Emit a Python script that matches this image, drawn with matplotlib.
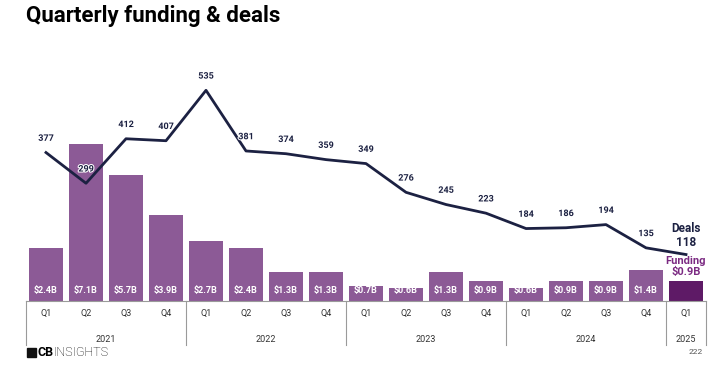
import matplotlib.pyplot as plt
import matplotlib.transforms as mtransforms
import matplotlib.patheffects as pe
from matplotlib.patches import Rectangle

plt.rcParams['font.family'] = ['Roboto', 'DejaVu Sans']

# Data
quarters = ["Q1", "Q2", "Q3", "Q4"] * 4 + ["Q1"]
years = ["2021", "2022", "2023", "2024", "2025"]
year_counts = [4, 4, 4, 4, 1]
funding = [2.4, 7.1, 5.7, 3.9, 2.7, 2.4, 1.3, 1.3, 0.7, 0.6, 1.3, 0.9, 0.6, 0.9, 0.9, 1.4, 0.9]
deals = [377, 299, 412, 407, 535, 381, 374, 359, 349, 276, 245, 223, 184, 186, 194, 135, 118]

bar_color = "#8c5a96"
last_color = "#5e1a66"
line_color = "#1c2142"
funding_text = "#7b2a82"

fig = plt.figure(figsize=(7.13, 3.68), dpi=100)
ax = fig.add_axes([26 / 713, 1 - 301 / 368, 680 / 713, 241 / 368])
ax2 = ax.twinx()

x = list(range(len(funding)))
colors = [bar_color] * (len(funding) - 1) + [last_color]
ax.bar(x, funding, width=0.85, color=colors, zorder=1)
for xi, v in zip(x[:-1], funding[:-1]):
    ax.text(xi, 0.25, f"${v}B", ha="center", va="bottom", color="white",
            fontsize=6.5, fontweight="bold")
ax.text(x[-1], funding[-1] + 0.2, f"Funding\n${funding[-1]}B", ha="center", va="bottom",
        color=funding_text, fontsize=8, fontweight="bold", linespacing=1.1)

ax.set_xlim(-0.5, len(funding) - 0.5)
ax.set_ylim(0, 10.9)

ax2.plot(x, deals, color=line_color, lw=2, zorder=3)
for xi, d in zip(x[:-1], deals[:-1]):
    ax2.annotate(str(d), (xi, d), xytext=(0, 7), textcoords="offset points",
                 ha="center", va="bottom", fontsize=6.5, fontweight="bold", color=line_color,
                 path_effects=[pe.withStroke(linewidth=1.5, foreground="white")])
ax2.annotate(f"Deals\n{deals[-1]}", (x[-1], deals[-1]), xytext=(0, 4), textcoords="offset points",
             ha="center", va="bottom", fontsize=8.5, fontweight="bold", color=line_color,
             linespacing=1.1)
ax2.set_ylim(0, 612)

for a in (ax, ax2):
    for s in a.spines.values():
        s.set_visible(False)
    a.set_yticks([])
    a.set_xticks([])

# category axis drawn below the plot
trans = mtransforms.blended_transform_factory(ax.transData, ax.transAxes)
px = 1 / 241
ax.plot([-0.5, len(funding) - 0.5], [0, 0], color="#9a9a9a", lw=0.8, transform=trans, clip_on=False)
for xi, q in zip(x, quarters):
    ax.text(xi, -12 * px, q, ha="center", va="center", fontsize=6.5, color="#333333", transform=trans)
start = 0
bounds = [-0.5]
for yr, n in zip(years, year_counts):
    ax.text(start + (n - 1) / 2, -38 * px, yr, ha="center", va="center", fontsize=6.5,
            color="#333333", transform=trans)
    start += n
    bounds.append(start - 0.5)
for b in bounds:
    ax.plot([b, b], [0, -44 * px], color="#9a9a9a", lw=0.8, transform=trans, clip_on=False)

fig.text(26 / 713, 1 - 16 / 368, "Quarterly funding & deals", fontsize=16, fontweight="bold",
         ha="left", va="center", color="black")

# footer
fig.patches.append(Rectangle((27 / 713, 1 - 357 / 368), 9 / 713, 9 / 368, color="#111111",
                             transform=fig.transFigure, figure=fig))
cb = fig.text(37 / 713, 1 - 352.5 / 368, "CB", fontsize=9, fontweight="bold", ha="left", va="center")
renderer = fig.canvas.get_renderer()
cb_right = cb.get_window_extent(renderer).x1
fig.text(cb_right / 713 + 0.5 / 713, 1 - 352.5 / 368, "INSIGHTS", fontsize=9, fontweight="light",
         ha="left", va="center")
fig.text(703 / 713, 1 - 352 / 368, "222", fontsize=6, ha="right", va="center", color="#555555")

fig.savefig("out.png", dpi=100)
